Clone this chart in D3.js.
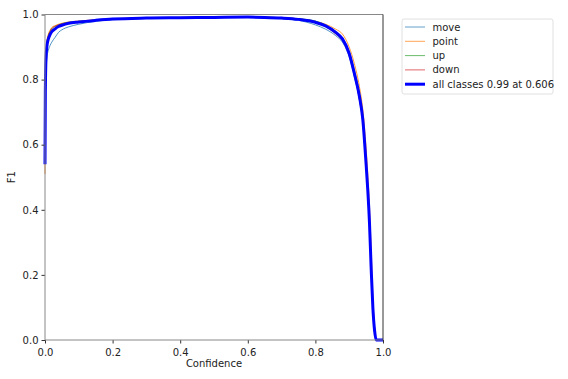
<!DOCTYPE html>
<html>
<head>
<meta charset="utf-8">
<script src="https://cdn.jsdelivr.net/npm/d3@7"></script>
<style>
  body { margin: 0; background: #fff; }
  text { font-family: "DejaVu Sans", sans-serif; }
</style>
</head>
<body>
<div id="chart"></div>
<script>
// F1-confidence curve per class plus the all-classes curve

var confidence = [0, 0.001, 0.003, 0.006, 0.01, 0.015, 0.02, 0.03, 0.04, 0.05, 0.07, 0.1, 0.15, 0.2, 0.3, 0.4, 0.5, 0.6, 0.65, 0.7, 0.75, 0.8, 0.83, 0.86, 0.88, 0.9, 0.915, 0.93, 0.94, 0.95, 0.955, 0.96, 0.965, 0.97, 0.975, 0.98, 0.985, 0.99, 1.0];

var moveF1  = [0.54, 0.72, 0.83, 0.87, 0.89, 0.905, 0.915, 0.93, 0.945, 0.953, 0.962, 0.970, 0.979, 0.984, 0.988, 0.99, 0.991, 0.991, 0.99, 0.987, 0.982, 0.968, 0.955, 0.935, 0.915, 0.87, 0.81, 0.74, 0.67, 0.53, 0.45, 0.35, 0.21, 0.09, 0.02, 0, 0, 0, 0];
var pointF1 = [0.51, 0.78, 0.88, 0.92, 0.94, 0.952, 0.96, 0.966, 0.97, 0.973, 0.977, 0.98, 0.984, 0.987, 0.99, 0.991, 0.992, 0.993, 0.992, 0.99, 0.987, 0.979, 0.97, 0.955, 0.94, 0.9, 0.85, 0.78, 0.71, 0.59, 0.51, 0.41, 0.28, 0.13, 0.04, 0, 0, 0, 0];
var upF1    = [0.55, 0.78, 0.88, 0.915, 0.935, 0.948, 0.956, 0.963, 0.968, 0.972, 0.976, 0.979, 0.983, 0.986, 0.989, 0.99, 0.991, 0.992, 0.992, 0.99, 0.987, 0.98, 0.968, 0.948, 0.928, 0.885, 0.83, 0.76, 0.69, 0.55, 0.46, 0.36, 0.22, 0.1, 0.03, 0, 0, 0, 0];
var downF1  = [0.55, 0.77, 0.87, 0.915, 0.935, 0.948, 0.957, 0.964, 0.968, 0.971, 0.975, 0.978, 0.983, 0.986, 0.989, 0.99, 0.991, 0.992, 0.991, 0.989, 0.985, 0.975, 0.963, 0.94, 0.92, 0.875, 0.815, 0.74, 0.67, 0.53, 0.45, 0.36, 0.23, 0.12, 0.04, 0, 0, 0, 0];
var allF1   = [0.54, 0.76, 0.865, 0.905, 0.925, 0.938, 0.947, 0.956, 0.963, 0.967, 0.973, 0.977, 0.982, 0.986, 0.989, 0.99, 0.991, 0.992, 0.991, 0.989, 0.985, 0.976, 0.965, 0.945, 0.925, 0.88, 0.82, 0.75, 0.68, 0.54, 0.46, 0.36, 0.22, 0.1, 0.03, 0, 0, 0, 0];

var seriesNames = ["move", "point", "up", "down", "all classes 0.99 at 0.606"];
var seriesValues = [moveF1, pointF1, upF1, downF1, allF1];
var seriesColors = ["#1f77b4", "#ff7f0e", "#2ca02c", "#d62728", "#0000ff"];
var ticks = [0, 0.2, 0.4, 0.6, 0.8, 1.0];

var margin = { top: 14.5, left: 45, right: 185, bottom: 39 },
    width = 568 - margin.left - margin.right,
    height = 379 - margin.top - margin.bottom;

var svg = d3.select("#chart")
  .append("svg")
  .attr("width", 568)
  .attr("height", 379);

var g = svg.append("g")
  .attr("transform", "translate(" + margin.left + "," + margin.top + ")");

var xPositionScale = d3.scaleLinear().domain([0, 1]).range([0, width]);
var yPositionScale = d3.scaleLinear().domain([0, 1]).range([height, 0]);

var defs = svg.append("defs");
defs.append("clipPath").attr("id", "clip")
  .append("rect").attr("x", -2).attr("y", -2).attr("width", width + 4).attr("height", height + 4);

var line = d3.line()
  .curve(d3.curveMonotoneX)
  .x(function(d) { return xPositionScale(d[0]); })
  .y(function(d) { return yPositionScale(d[1]); });

var plot = g.append("g").attr("clip-path", "url(#clip)");

seriesValues.forEach(function(vals, i) {
  var pts = confidence.map(function(c, j) { return [c, vals[j]]; });
  plot.append("path")
    .datum(pts)
    .attr("fill", "none")
    .attr("stroke", seriesColors[i])
    .attr("stroke-width", i === 4 ? 3 : 1)
    .attr("stroke-opacity", i === 4 ? 1 : 0.8)
    .attr("stroke-linejoin", "round")
    .attr("d", line);
});

var xAxis = d3.axisBottom(xPositionScale).tickValues(ticks).tickFormat(d3.format(".1f")).tickSize(3.5).tickSizeOuter(0);
var yAxis = d3.axisLeft(yPositionScale).tickValues(ticks).tickFormat(d3.format(".1f")).tickSize(3.5).tickSizeOuter(0);

var xg = g.append("g")
  .attr("transform", "translate(0," + height + ")")
  .call(xAxis);
var yg = g.append("g").call(yAxis);

[xg, yg].forEach(function(a) {
  a.select(".domain").remove();
  a.selectAll("line").attr("stroke", "#333");
  a.selectAll("text").attr("fill", "#222").style("font-size", "10px");
});
xg.selectAll("text").attr("dy", "0.9em");

// spines
g.append("line").attr("x1", 0).attr("x2", width).attr("y1", 0).attr("y2", 0).attr("stroke", "#888");
g.append("line").attr("x1", 0).attr("x2", width).attr("y1", height).attr("y2", height).attr("stroke", "#888");
g.append("line").attr("x1", 0).attr("x2", 0).attr("y1", 0).attr("y2", height).attr("stroke", "#888");
g.append("line").attr("x1", width).attr("x2", width).attr("y1", 0).attr("y2", height).attr("stroke", "#333");

g.append("text")
  .attr("x", width / 2)
  .attr("y", height + 27)
  .attr("text-anchor", "middle")
  .style("font-size", "10px")
  .attr("fill", "#222")
  .text("Confidence");

g.append("text")
  .attr("transform", "rotate(-90)")
  .attr("x", -height / 2)
  .attr("y", -30)
  .attr("text-anchor", "middle")
  .style("font-size", "10px")
  .attr("fill", "#222")
  .text("F1");

// legend
var legend = svg.append("g").attr("transform", "translate(402,19)");
legend.append("rect")
  .attr("width", 151)
  .attr("height", 75)
  .attr("rx", 2)
  .attr("fill", "#fff")
  .attr("stroke", "#d8d8d8")
  .attr("stroke-width", 0.8);

seriesNames.forEach(function(name, i) {
  var yy = 8 + i * 14.3;
  legend.append("line")
    .attr("x1", 3).attr("x2", 23)
    .attr("y1", yy).attr("y2", yy)
    .attr("stroke", seriesColors[i])
    .attr("stroke-opacity", i === 4 ? 1 : 0.7)
    .attr("stroke-width", i === 4 ? 3 : 1);
  legend.append("text")
    .attr("x", 30.5)
    .attr("y", yy)
    .attr("dy", "0.35em")
    .style("font-size", "10px")
    .attr("fill", "#222")
    .text(name);
});
</script>
</body>
</html>
